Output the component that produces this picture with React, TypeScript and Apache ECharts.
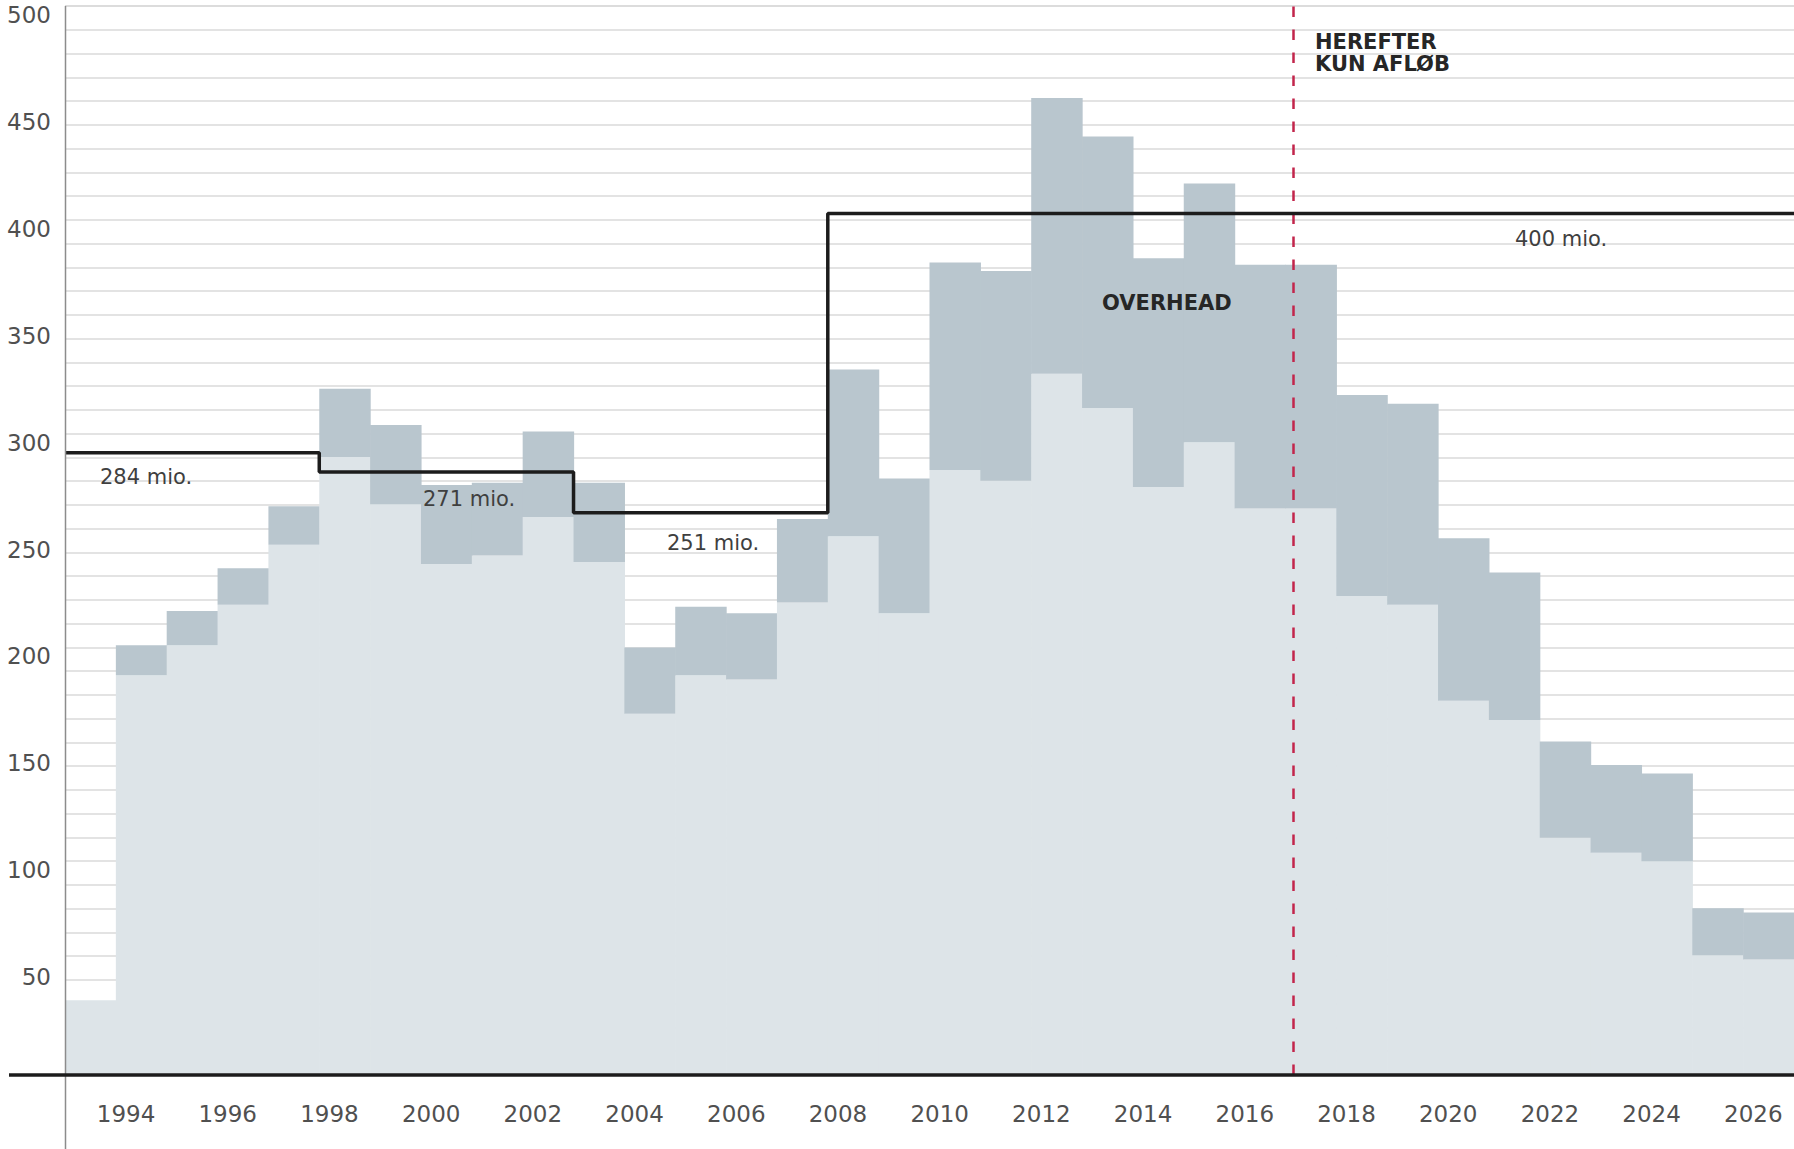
import React, { useEffect, useRef } from "react";
import * as echarts from "echarts";

// ---- data ----
const YEARS = [
  1993, 1994, 1995, 1996, 1997, 1998, 1999, 2000, 2001, 2002, 2003, 2004,
  2005, 2006, 2007, 2008, 2009, 2010, 2011, 2012, 2013, 2014, 2015, 2016,
  2017, 2018, 2019, 2020, 2021, 2022, 2023, 2024, 2025, 2026,
];
// light part (without overhead)
const BASE = [
  35, 187, 201, 220, 248, 289, 267, 239, 243, 261, 240, 169,
  187, 185, 221, 252, 216, 283, 278, 328, 312, 275, 296, 265,
  265, 224, 220, 175, 166, 111, 104, 100, 56, 54,
];
// top of the dark overhead band
const TOTAL = [
  35, 201, 217, 237, 266, 321, 304, 276, 277, 301, 277, 200,
  219, 216, 260, 330, 279, 380, 376, 457, 439, 382, 417, 379,
  379, 318, 314, 251, 235, 156, 145, 141, 78, 76,
];
const X_TICK_LABELS = [
  1994, 1996, 1998, 2000, 2002, 2004, 2006, 2008, 2010, 2012, 2014, 2016,
  2018, 2020, 2022, 2024, 2026,
];
const Y_TICK_LABELS = [50, 100, 150, 200, 250, 300, 350, 400, 450, 500];
const BUDGET_START_YEARS = [1993, 1998, 2003, 2008];
const BUDGET_LEVELS = [291, 282, 263, 403];
const BUDGET_LABELS = ["284 mio.", "271 mio.", "251 mio.", "400 mio."];
const CUTOFF_YEAR = 2016.95;
const OVERHEAD_LABEL = "OVERHEAD";
const CUTOFF_LABEL = "HEREFTER\nKUN AFLØB";

// ---- layout / style ----
const W = 1794;
const H = 1149;
const GRID = { left: 65, right: 0, top: 6, bottom: 74 };
const BAR_SHIFT = -0.2;
const Y_MAX = 500;
const GRID_STEP = Y_MAX / 45;
const LIGHT = "#dde4e8";
const DARK = "#b9c6ce";
const TEXT = "#505050";
const FONT = '"DejaVu Sans", sans-serif';
const BOLD_FONT = '"DejaVu Sans", sans-serif';

export default function App() {
  const ref = useRef<HTMLDivElement>(null);

  useEffect(() => {
    const chart = echarts.init(ref.current!, null, {
      renderer: "svg",
      width: W,
      height: H,
    });

    const xMin = YEARS[0] + BAR_SHIFT;
    const xMax = YEARS[YEARS.length - 1] + 1 + BAR_SHIFT;
    const lastYear = YEARS[YEARS.length - 1] + 1;

    const barData = YEARS.map((y, i) => [y, BASE[i], TOTAL[i]]);
    const budgetPts: number[][] = BUDGET_START_YEARS.map((y, i) => [
      y + BAR_SHIFT,
      BUDGET_LEVELS[i],
    ]);
    budgetPts.push([lastYear + BAR_SHIFT, BUDGET_LEVELS[BUDGET_LEVELS.length - 1]]);

    const baseY = H - GRID.bottom;

    const textEl = (
      text: string,
      x: number,
      y: number,
      size: number,
      bold = false,
      extra: any = {}
    ) => ({
      type: "text",
      z: 20,
      style: {
        text,
        x,
        y,
        fill: bold ? "#262626" : "#3f3f3f",
        fontSize: size,
        fontFamily: bold ? BOLD_FONT : FONT,
        fontWeight: bold ? "bold" : "normal",
        align: "left",
        verticalAlign: "middle",
        ...extra,
      },
    });

    chart.setOption({
      animation: false,
      backgroundColor: "#ffffff",
      grid: { ...GRID, containLabel: false },
      xAxis: {
        type: "value",
        min: xMin,
        max: xMax,
        axisLine: { show: false },
        axisTick: { show: false },
        splitLine: { show: false },
        axisLabel: {
          customValues: X_TICK_LABELS,
          color: TEXT,
          fontSize: 23,
          fontFamily: FONT,
          margin: 27,
          formatter: (v: number) => String(v),
        },
      },
      yAxis: [
        {
          type: "value",
          min: 0,
          max: Y_MAX,
          interval: GRID_STEP,
          axisLine: { show: false },
          axisTick: { show: false },
          axisLabel: { show: false },
          splitLine: { show: true, lineStyle: { color: "#dadada", width: 1.5 } },
        },
        {
          type: "value",
          min: 0,
          max: Y_MAX,
          interval: 50,
          position: "left",
          axisLine: { show: false },
          axisTick: { show: false },
          splitLine: { show: false },
          axisLabel: {
            color: TEXT,
            fontSize: 23,
            lineHeight: 18,
            fontFamily: FONT,
            margin: 14,
            verticalAlign: "top",
            formatter: (v: number) =>
              Y_TICK_LABELS.indexOf(v) >= 0 ? String(v) : "",
          },
        },
      ],
      series: [
        {
          type: "custom",
          xAxisIndex: 0,
          yAxisIndex: 0,
          z: 2,
          data: barData,
          renderItem: (params: any, api: any) => {
            const yr = api.value(0);
            const base = api.value(1);
            const total = api.value(2);
            const p0 = api.coord([yr + BAR_SHIFT, 0]);
            const p1 = api.coord([yr + 1 + BAR_SHIFT, 0]);
            const pb = api.coord([yr, base]);
            const pt = api.coord([yr, total]);
            const w = p1[0] - p0[0] + 0.6;
            return {
              type: "group",
              children: [
                {
                  type: "rect",
                  shape: { x: p0[0], y: pb[1], width: w, height: p0[1] - pb[1] },
                  style: { fill: LIGHT },
                },
                {
                  type: "rect",
                  shape: { x: p0[0], y: pt[1], width: w, height: pb[1] - pt[1] },
                  style: { fill: DARK },
                },
              ],
            };
          },
        },
        {
          type: "line",
          xAxisIndex: 0,
          yAxisIndex: 0,
          z: 5,
          step: "end",
          symbol: "none",
          data: budgetPts,
          lineStyle: { color: "#1c1c1c", width: 3.5 },
          markLine: {
            silent: true,
            symbol: "none",
            label: { show: false },
            lineStyle: { color: "#c2254b", width: 2.5, type: [10.5, 12.5] },
            data: [{ xAxis: CUTOFF_YEAR }],
          },
        },
      ],
      graphic: [
        {
          type: "line",
          z: 30,
          shape: { x1: GRID.left + 0.5, y1: GRID.top, x2: GRID.left + 0.5, y2: H },
          style: { stroke: "#8c8c8c", lineWidth: 1.5 },
        },
        {
          type: "line",
          z: 30,
          shape: { x1: 9, y1: baseY, x2: W, y2: baseY },
          style: { stroke: "#1c1c1c", lineWidth: 3.5 },
        },
        textEl(BUDGET_LABELS[0], 100, 477, 21),
        textEl(BUDGET_LABELS[1], 423, 499, 21),
        textEl(BUDGET_LABELS[2], 667, 543, 21),
        textEl(BUDGET_LABELS[3], 1515, 239, 21),
        textEl(OVERHEAD_LABEL, 1102, 303, 21, true),
        textEl(CUTOFF_LABEL, 1315, 31, 21, true, {
          verticalAlign: "top",
          lineHeight: 22,
        }),
      ],
    });

    return () => chart.dispose();
  }, []);

  return (
    <div
      ref={ref}
      style={{
        position: "fixed",
        left: 0,
        top: 0,
        width: W,
        height: H,
        background: "#fff",
      }}
    />
  );
}
